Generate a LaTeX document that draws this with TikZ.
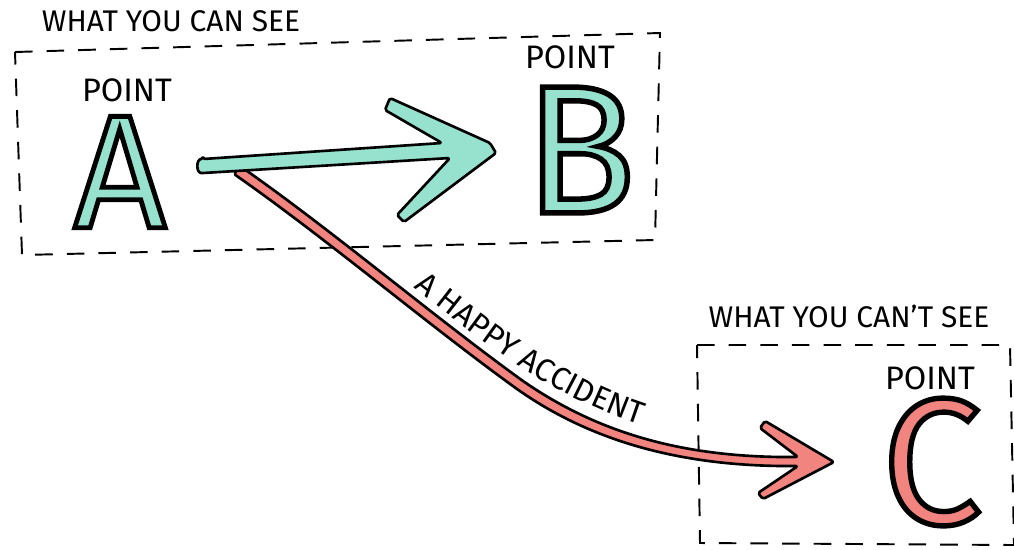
\documentclass[tikz,border=0pt]{standalone}
\usepackage{fontspec}
\setsansfont{Fira Sans}
\newfontfamily\inkfont[FakeBold=3]{Fira Sans}
\usetikzlibrary{decorations.text}

\definecolor{mint}{HTML}{96E2CF}
\definecolor{salmon}{HTML}{F2847F}
\newcommand{\inked}[1]{\special{pdf:literal direct 0 0 0 RG}#1}

\begin{document}
\begin{tikzpicture}[x=0.02cm, y=-0.02cm,
  frame/.style={line width=1.1pt, dash pattern=on 10pt off 8pt},
  caption/.style={font=\sffamily\fontsize{17}{17}\selectfont},
  pointcap/.style={font=\sffamily\fontsize{18.5}{18.5}\selectfont},
  bigletter/.style={font=\inkfont\fontsize{#1}{#1}\selectfont, inner sep=0pt},
  shape ink/.style={draw=black, line width=1.5pt, line join=round, rounded corners=1pt}]
  \useasboundingbox (0,0) rectangle (1014,549);

  % what you can see
  \node[caption] (seeCap) at (171,21) {WHAT YOU CAN SEE};
  \draw[frame] (15,52) -- (660,33) -- (655,240) -- (22,255) -- cycle;
  \node[pointcap] (capA) at (127,90) {POINT};
  \node[pointcap] (capB) at (570,57) {POINT};
  \node[bigletter=92, text=mint] (ptA) at (120,172) {\inked{A}};
  \node[bigletter=104, text=mint] (ptB) at (580,150) {\inked{B}};

  % what you can't see
  \node[caption] (hideCap) at (849,316) {WHAT YOU CAN’T SEE};
  \draw[frame] (697,345) -- (1010,345) -- (1014,545) -- (700,543) -- cycle;
  \node[pointcap] (capC) at (930,378) {POINT};
  \node[bigletter=102, text=salmon] (ptC) at (932,462) {\inked{C}};

  % the accident: A to C
  \coordinate (tipC) at (834,462);
  \filldraw[shape ink, fill=salmon]
    (240,166) .. controls (333,231) and (433,316) .. (523,381)
    .. controls (603,436) and (690,458) .. (798,457)
    -- (760,428) -- (765,421) -- (tipC) -- (763,499) -- (758,493) -- (798,466)
    .. controls (690,467) and (597,445) .. (517,389)
    .. controls (427,324) and (327,239) .. (234,174) -- cycle;
  \path[decorate, decoration={text along path, text align=center,
    text={|\sffamily\fontsize{18}{18}\selectfont|A HAPPY ACCIDENT}}]
    (394,272) .. controls (468,330) and (550,402) .. (664,432);

  % the plan: A to B
  \coordinate (tipB) at (496,153);
  \filldraw[shape ink, fill=mint]
    (203,159) -- (442,143) -- (385,110) -- (390,98) -- (490,143) -- (tipB)
    -- (404,222) -- (397,215) -- (450,158) -- (203,173)
    .. controls (196,173) and (196,159) .. (203,159) -- cycle;
\end{tikzpicture}
\end{document}
